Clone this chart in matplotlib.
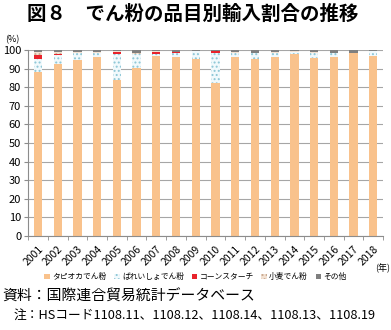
import matplotlib.pyplot as plt
import numpy as np

plt.rcParams['font.family'] = ['Noto Sans CJK JP', 'DejaVu Sans']
plt.rcParams['hatch.linewidth'] = 0.9

years = [str(y) for y in range(2001, 2019)]
tapioca = [88.5, 92.5, 94.5, 96.3, 84.0, 90.5, 97.0, 96.3, 95.5, 82.5,
           96.5, 95.5, 96.5, 97.8, 95.8, 96.5, 98.6, 97.0]
potato = [7.0, 5.0, 4.0, 2.0, 14.0, 7.5, 0.8, 2.0, 3.8, 16.0,
          2.0, 3.0, 2.0, 1.0, 2.8, 2.0, 0.0, 2.3]
corn = [1.8, 0.3, 0.0, 0.0, 1.0, 0.0, 1.0, 0.5, 0.0, 1.2,
        0.0, 0.0, 0.0, 0.0, 0.0, 0.0, 0.0, 0.0]
wheat = [1.5, 1.0, 0.3, 0.5, 0.3, 0.5, 0.7, 0.3, 0.0, 0.0,
         0.3, 0.2, 0.3, 0.5, 0.2, 0.2, 0.0, 0.2]
other = [1.2, 1.2, 1.2, 1.2, 0.7, 1.5, 0.5, 0.9, 0.7, 0.3,
         1.2, 1.3, 1.2, 0.7, 1.2, 1.3, 1.4, 0.5]

series = [
    ('タピオカでん粉', tapioca, dict(facecolor='#F9C28C', edgecolor='#F9C28C')),
    ('ばれいしょでん粉', potato, dict(facecolor='#F1F9FC', edgecolor='#8CC6D6', hatch='....')),
    ('コーンスターチ', corn, dict(facecolor='#E8232B', edgecolor='#E8232B')),
    ('小麦でん粉', wheat, dict(facecolor='#F3E2D3', edgecolor='#C8A890', hatch='....')),
    ('その他', other, dict(facecolor='#7F7F7F', edgecolor='#7F7F7F')),
]

fig = plt.figure(figsize=(3.91, 3.30), dpi=100)
ax = fig.add_axes([0.072, 0.285, 0.908, 0.563])

x = np.arange(len(years))
bottom = np.zeros(len(years))
handles = []
for name, vals, style in series:
    vals = np.array(vals)
    b = ax.bar(x, vals, 0.42, bottom=bottom, linewidth=0, label=name, **style)
    handles.append(b)
    bottom += vals

ax.set_xlim(-0.5, len(years) - 0.5)
ax.set_ylim(0, 100)
ax.set_yticks(range(0, 101, 10))
ax.yaxis.grid(True, color='#A6A6A6', linewidth=0.8)
ax.set_axisbelow(True)
for s in ['top', 'right']:
    ax.spines[s].set_visible(False)
for s in ['left', 'bottom']:
    ax.spines[s].set_color('#8C8C8C')
    ax.spines[s].set_linewidth(0.8)

ax.set_xticks(x)
ax.set_xticklabels(years, rotation=45, ha='right', rotation_mode='anchor', fontsize=7.5)
ax.set_xticks(np.arange(-0.5, len(years), 1), minor=True)
ax.tick_params(axis='x', which='major', length=0, pad=6)
ax.tick_params(axis='x', which='minor', length=3, color='#8C8C8C')
ax.tick_params(axis='y', length=3, color='#8C8C8C', labelsize=8, pad=2)

fig.text(0.07, 0.985, '図８　でん粉の品目別輸入割合の推移', fontsize=14,
         fontweight='bold', va='top', ha='left')
fig.text(0.012, 0.865, '(%)', fontsize=6.5, va='bottom', ha='left')
fig.text(0.997, 0.188, '(年)', fontsize=6.5, va='center', ha='right')

fig.legend(handles=handles, loc='center', bbox_to_anchor=(0.5, 0.16), ncol=5,
           frameon=False, fontsize=5.6, handlelength=0.7, handleheight=0.7,
           handletextpad=0.3, columnspacing=1.0, borderaxespad=0)

fig.text(0.005, 0.1, '資料：国際連合貿易統計データベース', fontsize=10.7,
         va='center', ha='left')
fig.text(0.035, 0.045, '注：HSコード1108.11、1108.12、1108.14、1108.13、1108.19',
         fontsize=9.2, va='center', ha='left')

fig.savefig('out.png', dpi=100)
